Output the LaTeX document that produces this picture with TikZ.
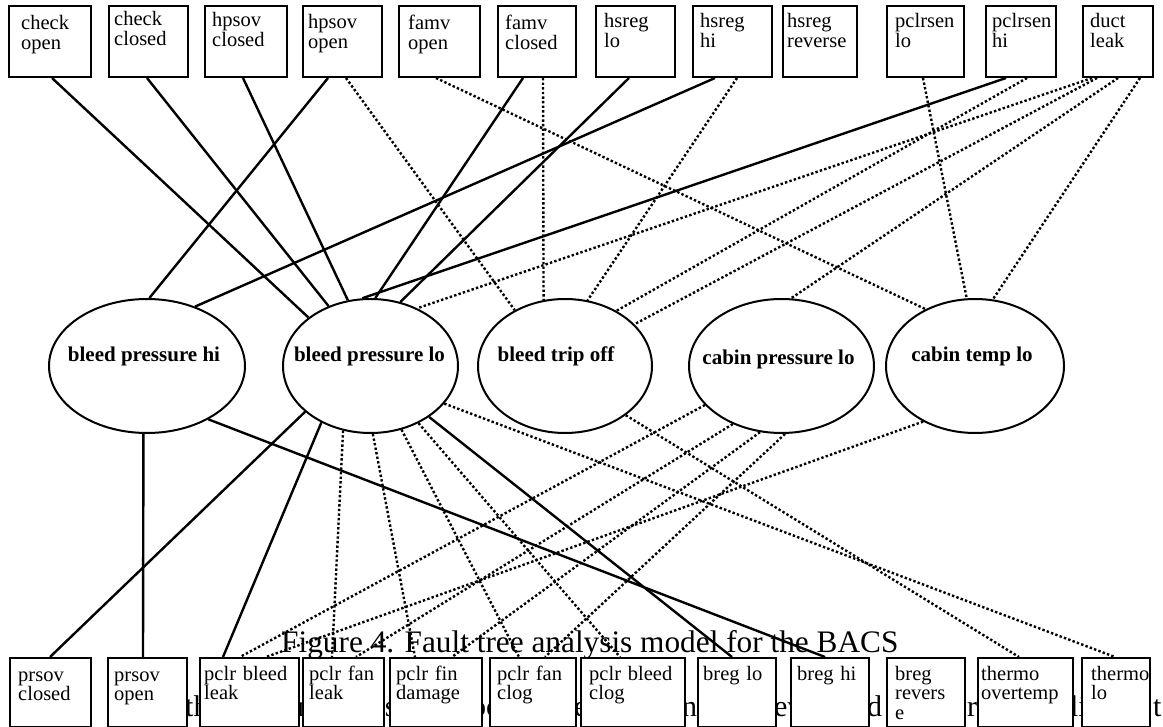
\documentclass[tikz,border=0pt]{standalone}
\usepackage{fontspec}
\setmainfont{Liberation Serif}
\usetikzlibrary{shapes.geometric,backgrounds}
\begin{document}
\begin{tikzpicture}[x=1pt,y=-1pt,
  bx/.style={draw,line width=2pt,fill=white,inner sep=0pt,anchor=north west},
  tbx/.style={bx,minimum height=71pt},
  lbx/.style={bx,minimum height=69pt},
  ell/.style={ellipse,draw,line width=2pt,fill=white,inner sep=0pt,minimum height=134pt},
  btxt/.style={anchor=base west,inner sep=0pt,align=left,text width=110pt,font=\fontsize{20.5}{19.5}\selectfont},
  etxt/.style={anchor=base,inner sep=0pt,font=\fontsize{21}{24}\selectfont\bfseries},
  captext/.style={anchor=base west,inner sep=0pt,font=\fontsize{31.3}{36}\selectfont},
  frag/.style={anchor=base west,inner sep=0pt,font=\fontsize{30}{36}\selectfont},
  solidc/.style={line width=2.4pt},
  dotc/.style={line width=2.4pt,dash pattern=on 2.4pt off 2.2pt}]
\useasboundingbox (0,0) rectangle (1163,727);

% ---- top boxes
\node[tbx,minimum width=82pt] (t1) at (8,5) {};
\node[tbx,minimum width=79pt] (t2) at (108,5) {};
\node[tbx,minimum width=82pt] (t3) at (204,5) {};
\node[tbx,minimum width=79pt] (t4) at (302,5) {};
\node[tbx,minimum width=81pt] (t5) at (398,5) {};
\node[tbx,minimum width=78pt] (t6) at (497,5) {};
\node[tbx,minimum width=79pt] (t7) at (595,5) {};
\node[tbx,minimum width=79pt] (t8) at (692,5) {};
\node[tbx,minimum width=74pt] (t9) at (782,5) {};
\node[tbx,minimum width=77pt] (t10) at (886,5) {};
\node[tbx,minimum width=70pt] (t11) at (985,5) {};
\node[tbx,minimum width=70pt] (t12) at (1082,5) {};

\node[btxt] (t1x) at ([xshift=13pt,yshift=-25pt]t1.north west) {check\\open};
\node[btxt] (t2x) at ([xshift=6pt,yshift=-21pt]t2.north west) {check\\closed};
\node[btxt] (t3x) at ([xshift=8pt,yshift=-22pt]t3.north west) {hpsov\\closed};
\node[btxt] (t4x) at ([xshift=6pt,yshift=-24pt]t4.north west) {hpsov\\open};
\node[btxt] (t5x) at ([xshift=10pt,yshift=-25pt]t5.north west) {famv\\open};
\node[btxt] (t6x) at ([xshift=8pt,yshift=-25pt]t6.north west) {famv\\closed};
\node[btxt] (t7x) at ([xshift=9pt,yshift=-23pt]t7.north west) {hsreg\\lo};
\node[btxt] (t8x) at ([xshift=8pt,yshift=-23pt]t8.north west) {hsreg\\hi};
\node[btxt] (t9x) at ([xshift=5pt,yshift=-23pt]t9.north west) {hsreg\\reverse};
\node[btxt] (t10x) at ([xshift=9pt,yshift=-23pt]t10.north west) {pclrsen\\lo};
\node[btxt] (t11x) at ([xshift=7pt,yshift=-23pt]t11.north west) {pclrsen\\hi};
\node[btxt] (t12x) at ([xshift=8pt,yshift=-23pt]t12.north west) {duct\\leak};

% ---- ellipses
\node[ell,minimum width=196pt] (E1) at (147,366) {};
\node[ell,minimum width=175pt] (E2) at (370.5,366) {};
\node[ell,minimum width=174pt] (E3) at (565,366) {};
\node[ell,minimum width=185pt] (E4) at (781.5,366) {};
\node[ell,minimum width=178pt] (E5) at (975,366) {};
\node[etxt] (L1) at ([xshift=-3pt,yshift=4pt]E1.center) {bleed pressure hi};
\node[etxt] (L2) at ([xshift=-1pt,yshift=4pt]E2.center) {bleed pressure lo};
\node[etxt] (L3) at ([xshift=-9pt,yshift=4pt]E3.center) {bleed trip off};
\node[etxt] (L4) at ([xshift=-3pt,yshift=1pt]E4.center) {cabin pressure lo};
\node[etxt] (L5) at ([xshift=-3pt,yshift=4pt]E5.center) {cabin temp lo};

% ---- bottom boxes
\node[lbx,minimum width=81pt] (b1) at (9,657) {};
\node[lbx,minimum width=79pt] (b2) at (107,657) {};
\node[lbx,minimum width=99pt] (b3) at (199,657) {};
\node[lbx,minimum width=81pt] (b4) at (302,657) {};
\node[lbx,minimum width=92pt] (b5) at (389,657) {};
\node[lbx,minimum width=86pt] (b6) at (489,657) {};
\node[lbx,minimum width=104pt] (b7) at (580,657) {};
\node[lbx,minimum width=78pt] (b8) at (697,657) {};
\node[lbx,minimum width=78pt] (b9) at (790,657) {};
\node[lbx,minimum width=78pt] (b10) at (886,657) {};
\node[lbx,minimum width=95pt] (b11) at (977,657) {};
\node[lbx,minimum width=68pt] (b12) at (1081,657) {};

\node[btxt] (b1x) at ([xshift=9pt,yshift=-24pt]b1.north west) {prsov\\closed};
\node[btxt] (b2x) at ([xshift=7pt,yshift=-24pt]b2.north west) {prsov\\open};
\node[btxt] (b3x) at ([xshift=5pt,yshift=-23pt]b3.north west) {pclr bleed\\leak};
\node[btxt] (b4x) at ([xshift=7pt,yshift=-23pt]b4.north west) {pclr fan\\leak};
\node[btxt] (b5x) at ([xshift=7pt,yshift=-23pt]b5.north west) {pclr fin\\damage};
\node[btxt] (b6x) at ([xshift=8pt,yshift=-23pt]b6.north west) {pclr fan\\clog};
\node[btxt] (b7x) at ([xshift=9pt,yshift=-23pt]b7.north west) {pclr bleed\\clog};
\node[btxt] (b8x) at ([xshift=6pt,yshift=-23pt]b8.north west) {breg lo};
\node[btxt] (b9x) at ([xshift=7pt,yshift=-23pt]b9.north west) {breg hi};
\node[btxt] (b10x) at ([xshift=9pt,yshift=-23pt]b10.north west) {breg\\revers\\e};
\node[btxt] (b11x) at ([xshift=4pt,yshift=-23pt]b11.north west) {thermo\\overtemp};
\node[btxt] (b12x) at ([xshift=10pt,yshift=-23pt]b12.north west) {thermo\\lo};

\begin{scope}[on background layer]
% top connectors
\draw[solidc] ([xshift=44pt]t1.south west) -- (E2.142);
\draw[solidc] ([xshift=39pt]t2.south west) -- (E2.125);
\draw[solidc] ([xshift=39pt]t3.south west) -- (E2.109);
\draw[solidc] ([xshift=26pt]t4.south west) -- (E1.88);
\draw[dotc] ([xshift=44pt]t4.south west) -- (E3.132);
\draw[dotc] ([xshift=38pt]t5.south west) -- (E5.131);
\draw[solidc] ([xshift=26pt]t6.south west) -- (E2.86);
\draw[dotc] ([xshift=46pt]t6.south west) -- (E3.108);
\draw[solidc] ([xshift=34pt]t7.south west) -- (E2.65);
\draw[solidc] ([xshift=23pt]t8.south west) -- (E1.51);
\draw[dotc] ([xshift=45pt]t8.south west) -- (E3.71);
\draw[dotc] ([xshift=37pt]t10.south west) -- (E5.97);
\draw[solidc] ([xshift=21pt]t11.south west) -- (E2.97);
\draw[dotc] ([xshift=42pt]t11.south west) -- (E3.47);
\draw[dotc] ([xshift=10pt]t12.south west) -- (E2.51);
\draw[dotc] ([xshift=15pt]t12.south west) -- (E3.31);
\draw[dotc] ([xshift=36pt]t12.south west) -- (E4.82);
\draw[dotc] ([xshift=58pt]t12.south west) -- (E5.75);
% bottom connectors
\draw[solidc] (E1.267) -- ([xshift=36pt]b2.north west);
\draw[solidc] (E1.319) -- ([xshift=35pt]b9.north west);
\draw[solidc] (E2.215) -- ([xshift=41pt]b1.north west);
\draw[solidc] (E2.229) -- ([xshift=24pt]b3.north west);
\draw[dotc] (E2.247) -- ([xshift=30pt]b4.north west);
\draw[dotc] (E2.272) -- ([xshift=26pt]b5.north west);
\draw[dotc] (E2.296) -- ([xshift=30pt]b6.north west);
\draw[dotc] (E2.310) -- ([xshift=40pt]b7.north west);
\draw[solidc] (E2.319) -- ([xshift=35pt]b8.north west);
\draw[dotc] (E2.333) -- ([xshift=34pt]b12.north west);
\draw[dotc] (E3.321) -- ([xshift=42pt]b11.north west);
\draw[dotc] (E4.207) -- ([xshift=41pt]b3.north west);
\draw[dotc] (E4.230) -- ([xshift=54pt]b4.north west);
\draw[dotc] (E4.252) -- ([xshift=63pt]b5.north west);
\draw[dotc] (E4.273) -- ([xshift=56pt]b6.north west);
\draw[dotc] (E5.227) -- ([xshift=67pt]b3.north west);
% text fragments behind the bottom boxes
\node[frag] (f1) at (185,716) {th};
\node[frag] (f2) at (297,716) {n};
\node[frag] (f3) at (369.7,716) {ys};
\node[frag] (f4) at (471,716) {oc};
\node[frag] (f5) at (574,716) {e};
\node[frag] (f6) at (682,716) {n};
\node[frag] (f7) at (774,716) {ev};
\node[frag] (f8) at (867,716) {d};
\node[frag] (f9) at (952,716) {or};
\node[frag] (f10) at (1061.6,716) {ili};
\node[frag] (f11) at (1153,716) {t};
\end{scope}

\node[captext] (caption) at (281,652) {Figure 4. Fault tree analysis model for the BACS};
\end{tikzpicture}
\end{document}
